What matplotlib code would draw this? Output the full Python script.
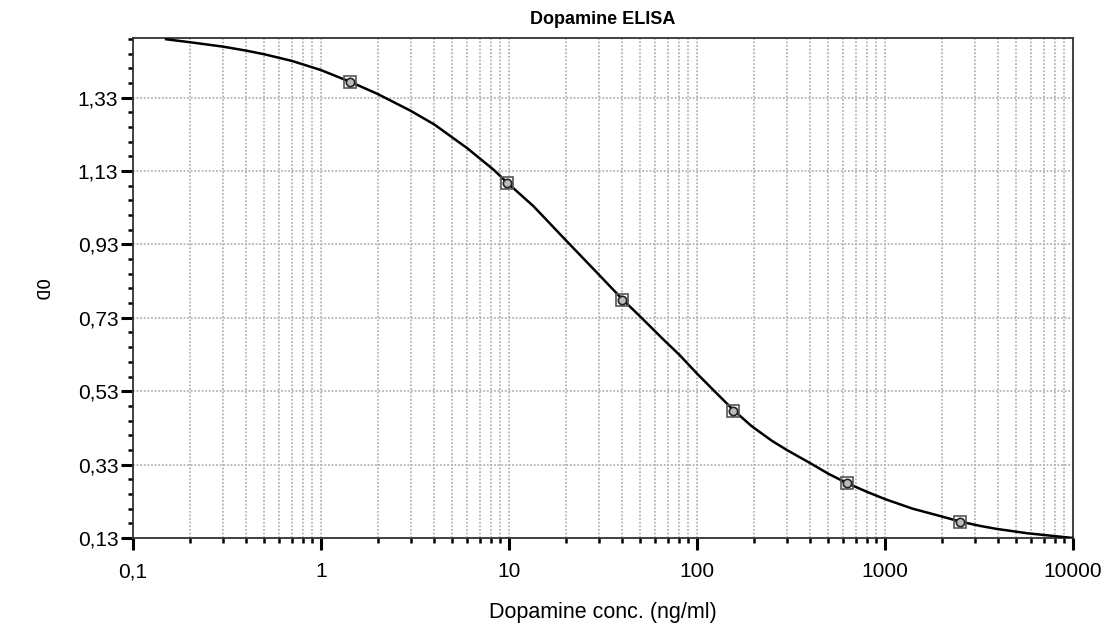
import matplotlib.pyplot as plt
import numpy as np
from matplotlib.ticker import FixedLocator, FixedFormatter, LogLocator, NullFormatter

plt.rcParams['font.family'] = ['Liberation Sans', 'DejaVu Sans']

# Стандарты (точки калибровки)
std_conc = [1.43, 9.72, 39.7, 156, 626, 2506]
std_od = [1.373, 1.096, 0.779, 0.477, 0.279, 0.174]

# Кривая аппроксимации
curve_conc = [0.15, 0.2, 0.3, 0.4, 0.5, 0.7, 1.0, 1.43, 2.0, 3.0, 4.0, 6.0, 8.3,
              9.7, 13.5, 20, 29, 40, 50, 65, 81, 100, 125, 156, 195, 250, 300,
              400, 500, 625, 800, 1000, 1400, 1960, 2500, 3200, 3900, 5700, 10000]
curve_od = [1.489, 1.481, 1.469, 1.458, 1.448, 1.430, 1.405, 1.373, 1.340, 1.294,
            1.257, 1.192, 1.133, 1.100, 1.034, 0.942, 0.856, 0.781, 0.733, 0.675,
            0.628, 0.578, 0.528, 0.479, 0.435, 0.395, 0.370, 0.334, 0.305, 0.280,
            0.256, 0.236, 0.210, 0.190, 0.175, 0.163, 0.155, 0.143, 0.130]

y_ticks = [0.13, 0.33, 0.53, 0.73, 0.93, 1.13, 1.33]
y_labels = ["0,13", "0,33", "0,53", "0,73", "0,93", "1,13", "1,33"]
x_ticks = [0.1, 1, 10, 100, 1000, 10000]
x_labels = ["0,1", "1", "10", "100", "1000", "10000"]

fig = plt.figure(figsize=(11.03, 6.26), dpi=100)
ax = fig.add_axes([133 / 1103, 1 - 538 / 626, 940 / 1103, 500 / 626])

ax.set_xscale("log")
ax.set_xlim(0.1, 10000)
ax.set_ylim(0.13, 1.4924)

grid_kw = dict(color="#b4b4b4", linestyle=(0, (1, 1)), linewidth=1.3)
ax.grid(True, which="major", axis="both", **grid_kw)
ax.grid(True, which="minor", axis="x", **grid_kw)
ax.set_axisbelow(True)

ax.plot(curve_conc, curve_od, color="black", linewidth=1.8, zorder=3)
ax.plot(std_conc, std_od, linestyle="none", marker="s", markersize=8,
        markerfacecolor="none", markeredgecolor="#555555", markeredgewidth=1.2, zorder=4)
ax.plot(std_conc, std_od, linestyle="none", marker="o", markersize=6,
        markerfacecolor="#bbbbbb", markeredgecolor="#222222", markeredgewidth=1.2, zorder=5)

ax.xaxis.set_major_locator(FixedLocator(x_ticks))
ax.xaxis.set_major_formatter(FixedFormatter(x_labels))
ax.xaxis.set_minor_locator(LogLocator(base=10, subs=np.arange(2, 10), numticks=20))
ax.xaxis.set_minor_formatter(NullFormatter())

ax.yaxis.set_major_locator(FixedLocator(y_ticks))
ax.yaxis.set_major_formatter(FixedFormatter(y_labels))
ax.yaxis.set_minor_locator(FixedLocator(np.arange(0.13, 1.50, 0.04)))

ax.tick_params(axis="both", which="major", direction="out", length=8.6, width=2.2,
               labelsize=15, color="black")
ax.tick_params(axis="y", which="major", pad=2)
ax.tick_params(axis="x", which="major", pad=9)
ax.tick_params(axis="both", which="minor", direction="out", length=3.6, width=1.8,
               color="black")

for s in ax.spines.values():
    s.set_linestyle((0, (1, 1)))
    s.set_color("#333333")
    s.set_linewidth(1.3)

ax.set_title("Dopamine ELISA", fontsize=13, fontweight="bold", pad=10)
ax.set_xlabel("Dopamine conc. (ng/ml)", fontsize=15.5, labelpad=15)
fig.text(40 / 1103, 1 - 290 / 626, "OD", rotation=270, fontsize=13,
         ha="center", va="center", family=["DejaVu Sans Mono", "DejaVu Sans"])

fig.savefig("out.png", dpi=100)
